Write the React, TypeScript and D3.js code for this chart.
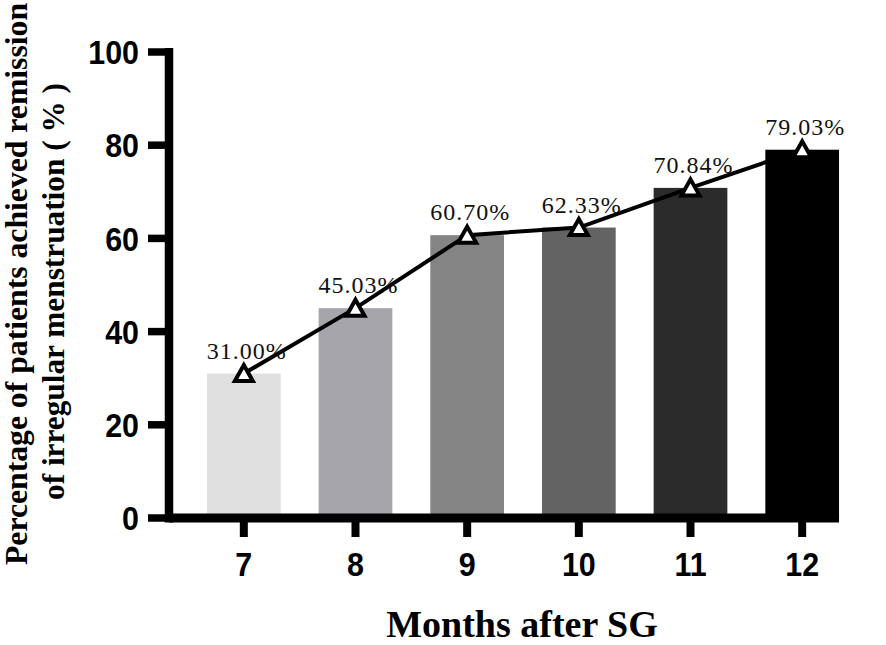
import React from "react";
import * as d3 from "d3";

const months = ["7", "8", "9", "10", "11", "12"];
const rates = [31.0, 45.03, 60.7, 62.33, 70.84, 79.03];
const barColors = ["#e0e0e0", "#a5a5ab", "#848484", "#636363", "#2b2b2b", "#000000"];
const yTicks = [0, 20, 40, 60, 80, 100];

const W = 886;
const H = 645;
const serif = "'Liberation Serif', 'Times New Roman', serif";
const sans = "'Liberation Sans', Arial, sans-serif";

const App = () => {
  const axisX = 169;
  const y = d3.scaleLinear().domain([0, 100]).range([518, 52]);
  const x = d3
    .scaleBand<string>()
    .domain(months)
    .range([axisX, 877])
    .paddingInner(0.34)
    .paddingOuter(0.34);
  const cx = (m: string) => (x(m) || 0) + x.bandwidth() / 2;

  const line = d3
    .line<number>()
    .x((_, i) => cx(months[i]))
    .y((d) => y(d));

  // open triangle marker around a point
  const tri = (px: number, py: number) =>
    `M${px},${py - 8.5}L${px + 9},${py + 7.5}L${px - 9},${py + 7.5}Z`;

  const xEnd = (x(months[months.length - 1]) || 0) + x.bandwidth();

  return (
    <svg
      width={W}
      height={H}
      style={{ position: "absolute", left: 0, top: 0, background: "#fff" }}
    >
      {/* bars */}
      {months.map((m, i) => (
        <rect
          key={m}
          x={x(m)}
          y={y(rates[i])}
          width={x.bandwidth()}
          height={y(0) - y(rates[i])}
          fill={barColors[i]}
        />
      ))}

      {/* y axis */}
      <line x1={axisX} x2={axisX} y1={y(100) - 4} y2={y(0) + 4.5} stroke="#000" strokeWidth={8.5} />
      {yTicks.map((t) => (
        <g key={t}>
          <line x1={148} x2={axisX} y1={y(t)} y2={y(t)} stroke="#000" strokeWidth={7.5} />
          <text
            transform={`translate(139,${y(t)}) scale(0.95,1.05)`}
            dy="0.36em"
            textAnchor="end"
            fontFamily={sans}
            fontWeight="bold"
            fontSize={32}
          >
            {t}
          </text>
        </g>
      ))}

      {/* x axis */}
      <line x1={axisX} x2={xEnd} y1={y(0)} y2={y(0)} stroke="#000" strokeWidth={9} />
      {months.map((m) => (
        <g key={m}>
          <line x1={cx(m)} x2={cx(m)} y1={y(0)} y2={537} stroke="#000" strokeWidth={8} />
          <text
            transform={`translate(${cx(m)},576) scale(0.95,1.05)`}
            textAnchor="middle"
            fontFamily={sans}
            fontWeight="bold"
            fontSize={32}
          >
            {m}
          </text>
        </g>
      ))}

      {/* trend line + markers */}
      <path d={line(rates) || ""} fill="none" stroke="#000" strokeWidth={4} />
      {rates.map((v, i) => (
        <path
          key={i}
          d={tri(cx(months[i]), y(v))}
          fill="#fff"
          stroke="#000"
          strokeWidth={4}
          strokeLinejoin="miter"
        />
      ))}
      {rates.map((v, i) => (
        <text
          key={i}
          x={cx(months[i]) + 3}
          y={y(v) - 15}
          textAnchor="middle"
          fontFamily={serif}
          fontSize={24}
          letterSpacing={1}
          fill="#111"
        >
          {v.toFixed(2)}%
        </text>
      ))}

      {/* axis titles */}
      <text
        x={522}
        y={637}
        textAnchor="middle"
        fontFamily={serif}
        fontWeight="bold"
        fontSize={38}
      >
        Months after SG
      </text>
      <text
        transform="translate(27,565) rotate(-90)"
        fontFamily={serif}
        fontWeight="bold"
        fontSize={31}
        textLength={562}
        lengthAdjust="spacingAndGlyphs"
      >
        Percentage of patients achieved remission
      </text>
      <text
        transform="translate(64,500) rotate(-90)"
        fontFamily={serif}
        fontWeight="bold"
        fontSize={31}
        textLength={417}
        lengthAdjust="spacingAndGlyphs"
      >
        of irregular menstruation ( % )
      </text>
    </svg>
  );
};

export default App;
